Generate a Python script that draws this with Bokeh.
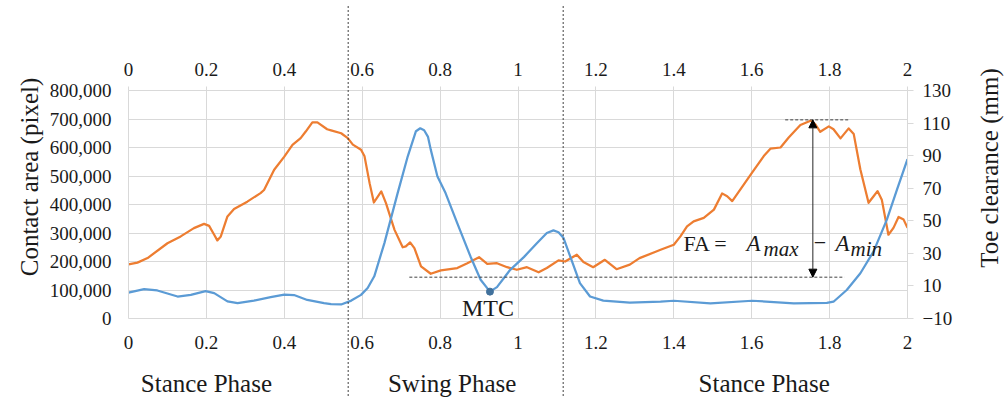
import math
from bokeh.plotting import figure
from bokeh.models import (Range1d, LinearAxis, FixedTicker, NumeralTickFormatter,
                          CustomJSTickFormatter, Arrow, NormalHead)
from bokeh.core.properties import value
from bokeh.embed import file_html
from bokeh.resources import INLINE

# ---------------- data ----------------
time_area = [0.0, 0.023, 0.049, 0.1, 0.134, 0.168, 0.194, 0.207, 0.22, 0.228, 0.237, 0.254,
             0.271, 0.305, 0.339, 0.348, 0.374, 0.4, 0.421, 0.442, 0.455, 0.472, 0.485, 0.51,
             0.52, 0.546, 0.563, 0.576, 0.597, 0.606, 0.619, 0.63, 0.64, 0.649, 0.661, 0.683,
             0.704, 0.712, 0.723, 0.734, 0.751, 0.776, 0.802, 0.844, 0.87, 0.9, 0.921, 0.946,
             0.972, 0.997, 1.023, 1.053, 1.074, 1.104, 1.121, 1.151, 1.168, 1.193, 1.223, 1.253,
             1.287, 1.312, 1.355, 1.366, 1.4, 1.417, 1.434, 1.451, 1.477, 1.503, 1.524, 1.537,
             1.55, 1.571, 1.601, 1.631, 1.648, 1.674, 1.695, 1.725, 1.751, 1.763, 1.776, 1.798,
             1.81, 1.828, 1.849, 1.862, 1.879, 1.9, 1.913, 1.923, 1.934, 1.951, 1.964, 1.977,
             1.99, 2.0]
contact_area = [190000, 196000, 212000, 264000, 288000, 317000, 332000, 325000, 294000, 274000,
                288000, 358000, 384000, 410000, 440000, 451000, 522000, 568000, 609000, 633000,
                656000, 688000, 688000, 664000, 660000, 650000, 633000, 610000, 592000, 569000,
                475000, 407000, 428000, 446000, 405000, 311000, 250000, 253000, 267000, 247000,
                183000, 157000, 169000, 177000, 194000, 215000, 192000, 194000, 180000, 171000,
                180000, 162000, 177000, 204000, 200000, 224000, 198000, 180000, 206000, 173000,
                189000, 212000, 235000, 241000, 259000, 288000, 323000, 341000, 353000, 382000,
                439000, 429000, 412000, 453000, 512000, 570000, 596000, 600000, 635000, 679000,
                694000, 682000, 655000, 674000, 664000, 632000, 667000, 647000, 523000, 406000,
                429000, 447000, 417000, 294000, 318000, 356000, 347000, 318000]

time_clear = [0.0, 0.04, 0.074, 0.126, 0.16, 0.198, 0.22, 0.254, 0.28, 0.322, 0.365, 0.4, 0.425,
              0.459, 0.502, 0.52, 0.546, 0.572, 0.597, 0.614, 0.631, 0.657, 0.691, 0.717, 0.738,
              0.749, 0.759, 0.769, 0.776, 0.793, 0.814, 0.844, 0.878, 0.904, 0.928, 0.946, 0.98,
              1.015, 1.049, 1.074, 1.091, 1.104, 1.117, 1.134, 1.159, 1.185, 1.219, 1.287, 1.366,
              1.4, 1.494, 1.601, 1.708, 1.793, 1.81, 1.844, 1.879, 1.913, 1.947, 1.973, 2.0]
toe_clearance = [5.9, 8.0, 7.2, 3.5, 4.5, 6.8, 5.6, 0.5, -0.6, 1.0, 3.1, 4.7, 4.4, 1.4, -0.6,
                 -1.2, -1.4, 1.0, 4.5, 8.7, 15.9, 36.3, 67.0, 89.6, 105.0, 106.8, 105.6, 101.5,
                 93.7, 77.3, 67.0, 48.6, 28.1, 13.8, 6.5, 9.3, 19.9, 27.7, 36.3, 42.5, 44.1, 43.0,
                 39.4, 28.1, 11.7, 3.5, 1.0, -0.2, 0.3, 0.9, -0.7, 0.9, -0.7, -0.4, 0.3, 7.5,
                 17.8, 31.2, 50.7, 69.2, 87.8]

x_ticks = [0.0, 0.2, 0.4, 0.6, 0.8, 1.0, 1.2, 1.4, 1.6, 1.8, 2.0]
area_ticks = [0, 100000, 200000, 300000, 400000, 500000, 600000, 700000, 800000]
clear_ticks = [-10, 10, 30, 50, 70, 90, 110, 130]

phase_names = ["Stance Phase", "Swing Phase", "Stance Phase"]
phase_centers = [0.2, 0.831, 1.632]
phase_bounds = [0.564, 1.116]

fa_top = 697000
fa_bottom = 145000
fa_x = 1.757
fa_top_span = [1.686, 1.849]
fa_bottom_span = [0.721, 1.838]

# ---------------- style ----------------
ORANGE = "#ED7D31"
BLUE = "#5B9BD5"
GRID = "#d9d9d9"
TXT = "#1a1a1a"
FONT = "Liberation Serif"

p = figure(frame_width=779, frame_height=228,
           x_range=Range1d(0, 2), y_range=Range1d(0, 800000),
           min_border_left=128, min_border_right=98, min_border_top=90, min_border_bottom=80,
           output_backend="svg", toolbar_location=None, x_axis_location=None, y_axis_location=None)
p.extra_y_ranges = {"mm": Range1d(-10, 130)}
p.outline_line_color = None
p.background_fill_color = "white"
p.border_fill_color = "white"

tick_fmt = CustomJSTickFormatter(code="return String(Math.round(tick*10)/10);")


def style_axis(ax):
    ax.axis_line_color = GRID
    ax.major_tick_line_color = GRID
    ax.minor_tick_line_color = None
    ax.major_label_text_font = FONT
    ax.major_label_text_font_size = "19px"
    ax.major_label_text_color = TXT


xb = LinearAxis(ticker=FixedTicker(ticks=x_ticks), formatter=tick_fmt)
style_axis(xb)
xb.major_tick_out = 0
xb.major_tick_in = 0
xb.major_label_standoff = 17
p.add_layout(xb, "below")

xt = LinearAxis(ticker=FixedTicker(ticks=x_ticks), formatter=tick_fmt)
style_axis(xt)
xt.major_tick_out = 4
xt.major_tick_in = 0
xt.major_label_standoff = 11
p.add_layout(xt, "above")

yl = LinearAxis(ticker=FixedTicker(ticks=area_ticks), formatter=NumeralTickFormatter(format="0,0"))
style_axis(yl)
yl.major_tick_out = 0
yl.major_tick_in = 0
yl.major_label_standoff = 17
p.add_layout(yl, "left")

yr = LinearAxis(y_range_name="mm", ticker=FixedTicker(ticks=clear_ticks),
                formatter=CustomJSTickFormatter(
                    code="return tick < 0 ? '\u2212' + Math.abs(tick) : String(tick);"))
style_axis(yr)
yr.major_tick_out = 6
yr.major_tick_in = 0
yr.major_label_standoff = 9
p.add_layout(yr, "right")

p.xgrid.ticker = FixedTicker(ticks=x_ticks)
p.ygrid.ticker = FixedTicker(ticks=area_ticks)
p.grid.grid_line_color = GRID
p.grid.grid_line_width = 1

# ---------------- series ----------------
p.line(time_area, contact_area, line_color=ORANGE, line_width=2.25, line_join="round")
p.line(time_clear, toe_clearance, line_color=BLUE, line_width=2.25, line_join="round",
       y_range_name="mm")

# MTC: minimum toe clearance during swing
swing = [i for i, t in enumerate(time_clear) if 0.8 < t < phase_bounds[1]]
i_mtc = min(swing, key=lambda i: toe_clearance[i])
p.scatter([time_clear[i_mtc]], [toe_clearance[i_mtc]], size=7, color="#41719C",
          y_range_name="mm")
p.text(x=[time_clear[i_mtc] - 0.005], y=[37500], text=["MTC"], text_font=value(FONT),
       text_font_size=value("24px"), text_color=TXT, text_align="center",
       text_baseline="middle", level="overlay")

# FA annotation
p.segment(x0=[fa_top_span[0], fa_bottom_span[0]], y0=[fa_top, fa_bottom],
          x1=[fa_top_span[1], fa_bottom_span[1]], y1=[fa_top, fa_bottom],
          line_color="#404040", line_width=1, line_dash="3 2")
p.add_layout(Arrow(start=NormalHead(size=8, fill_color="black", line_color="black"),
                   end=NormalHead(size=8, fill_color="black", line_color="black"),
                   x_start=fa_x, y_start=fa_bottom, x_end=fa_x, y_end=fa_top,
                   line_color="#262626", line_width=1))

fa_parts = [
    ("FA =", 1.4249, 264900, "normal", "22px", "left"),
    ("A", 1.5866, 264900, "italic", "23px", "left"),
    ("max", 1.6303, 244200, "italic", "21px", "left"),
    ("\u2212", 1.7753, 264900, "normal", "22px", "center"),
    ("A", 1.8152, 264900, "italic", "23px", "left"),
    ("min", 1.8537, 244200, "italic", "21px", "left"),
]
for txt, xx, yy, sty, sz, al in fa_parts:
    p.text(x=[xx], y=[yy], text=[txt], text_font=value(FONT), text_font_style=sty,
           text_font_size=value(sz), text_color=TXT, text_align=al,
           text_baseline="middle", level="overlay")

# phase separators (extend beyond the frame)
p.segment(x0=phase_bounds, y0=[-300000] * len(phase_bounds),
          x1=phase_bounds, y1=[1100000] * len(phase_bounds),
          line_color="#404040", line_width=1, line_dash="2 2", level="overlay")

p.text(x=phase_centers, y=[-229800] * len(phase_centers), text=phase_names,
       text_font=value(FONT), text_font_size=value("25px"), text_color=TXT,
       text_align="center", text_baseline="middle", level="overlay")

# axis titles
p.text(x=[-0.2529, 2.2105], y=[496500, 528000],
       text=["Contact area (pixel)", "Toe clearance (mm)"], angle=math.pi / 2,
       text_font=value(FONT), text_font_size=value("25px"), text_color=TXT,
       text_align="center", text_baseline="middle", level="overlay")

open("out.html", "w").write(file_html(p, INLINE))
